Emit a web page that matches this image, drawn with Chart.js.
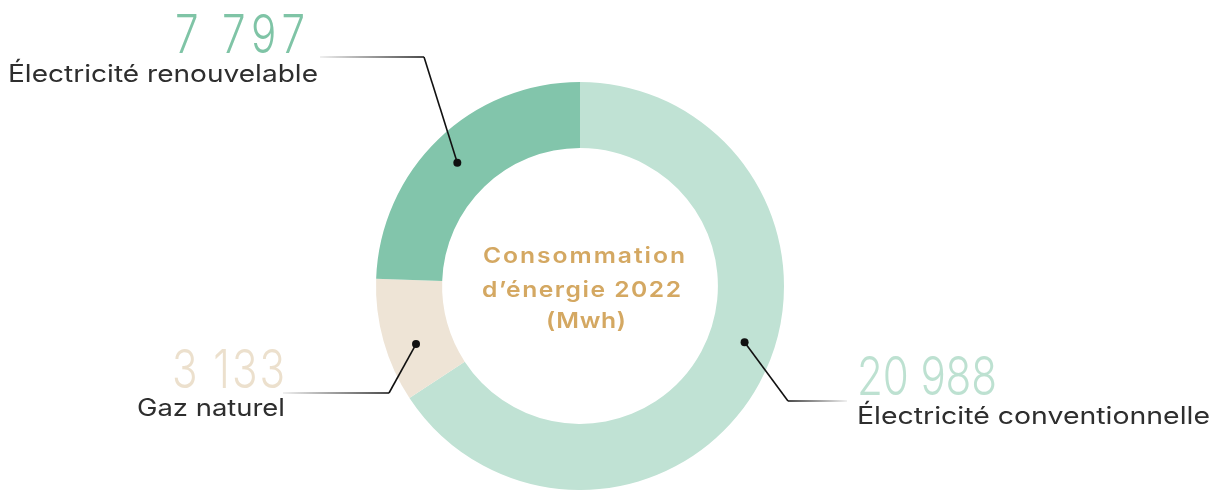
<!DOCTYPE html>
<html>
<head>
<meta charset="utf-8">
<script src="https://cdn.jsdelivr.net/npm/chart.js@4/dist/chart.umd.min.js"></script>
<style>
  html, body { margin: 0; padding: 0; background: #fff; }
  #wrap { width: 1214px; height: 490px; }
</style>
</head>
<body>
<div id="wrap"><canvas id="energyChart" width="1214" height="490"></canvas></div>
<script>
// Chart data
const categories = ['Électricité conventionnelle', 'Gaz naturel', 'Électricité renouvelable'];
const values = [20988, 3133, 7797];
const valueLabels = ['20 988', '3 133', '7 797'];
const centerLines = ['Consommation', 'd’énergie 2022', '(Mwh)'];

// Styling
const sliceColors = ['#c0e2d4', '#eee4d6', '#82c5ab'];
const numberColors = ['#bde1d1', '#ece0cd', '#7fc4a6'];

// Callout layout, relative to the doughnut centre
// frac: where along the slice the dot sits, elbow: bend of the leader line
const callouts = [
    { frac: 0.46, elbow: [208, 115], endX: 267,
      label: { x0: 277, x1: 630, base: 138 }, num: { x0: 277, x1: 417, base: 109 } },
    { frac: 0.39, elbow: [-191, 107], endX: -297,
      label: { x0: -443, x1: -295, base: 130 }, num: { x0: -408, x1: -295, base: 102 } },
    { frac: 0.49, elbow: [-156, -229], endX: -260,
      label: { x0: -572, x1: -262, base: -204 }, num: { x0: -405, x1: -275, base: -233 } }
];

const ctx = document.getElementById('energyChart').getContext('2d');

// Draw text between x0 and x1: squeeze by sx, then spread the rest with letter spacing
function drawFitted(c, text, x0, x1, base, font, color, sx) {
    c.save();
    c.font = font;
    c.letterSpacing = '0px';
    const w = c.measureText(text).width * sx;
    const n = [...text].length;
    const ls = n > 1 ? (x1 - x0 - w) / (n - 1) / sx : 0;
    c.letterSpacing = ls + 'px';
    c.fillStyle = color;
    c.textAlign = 'left';
    c.textBaseline = 'alphabetic';
    c.translate(x0, base);
    c.scale(sx, 1);
    c.fillText(text, 0, 0);
    c.restore();
}

// Draw text stretched to exactly fill x0..x1
function drawStretched(c, text, x0, x1, base, font, color) {
    c.save();
    c.font = font;
    c.letterSpacing = '0px';
    const w = c.measureText(text).width;
    c.fillStyle = color;
    c.textAlign = 'left';
    c.textBaseline = 'alphabetic';
    c.translate(x0, base);
    c.scale((x1 - x0) / w, 1);
    c.fillText(text, 0, 0);
    c.restore();
}

const calloutPlugin = {
    id: 'callouts',
    afterDatasetsDraw(chart) {
        const c = chart.ctx;
        const arcs = chart.getDatasetMeta(0).data;
        const cx = arcs[0].x;
        const cy = arcs[0].y;
        c.save();

        // centre title
        const centerFont = '600 22px Inter, "Noto Sans", sans-serif';
        const centerSpan = [[-97, 105, -23], [-98, 101, 11], [-34, 46, 42]];
        centerLines.forEach((line, i) => {
            const s = centerSpan[i];
            drawFitted(c, line, cx + s[0], cx + s[1], cy + s[2], centerFont, '#d4a862', 1.12);
        });

        arcs.forEach((arc, i) => {
            const co = callouts[i];
            const p = arc.getProps(['startAngle', 'endAngle', 'innerRadius', 'outerRadius']);
            const a = p.startAngle + co.frac * (p.endAngle - p.startAngle);
            const r = (p.innerRadius + p.outerRadius) / 2 + 3;
            const dx = cx + Math.cos(a) * r;
            const dy = cy + Math.sin(a) * r;
            const ex = cx + co.elbow[0];
            const ey = cy + co.elbow[1];
            const endX = cx + co.endX;

            // leader line
            c.lineWidth = 1.6;
            c.strokeStyle = '#111';
            c.beginPath();
            c.moveTo(dx, dy);
            c.lineTo(ex, ey);
            c.stroke();
            const grad = c.createLinearGradient(ex, ey, endX, ey);
            grad.addColorStop(0, '#111');
            grad.addColorStop(1, 'rgba(0,0,0,0.08)');
            c.strokeStyle = grad;
            c.beginPath();
            c.moveTo(ex, ey);
            c.lineTo(endX, ey);
            c.stroke();

            // dot
            c.fillStyle = '#111';
            c.beginPath();
            c.arc(dx, dy, 4, 0, Math.PI * 2);
            c.fill();

            // value and category
            drawFitted(c, valueLabels[i], cx + co.num.x0, cx + co.num.x1, cy + co.num.base,
                '300 54px Inter, "DejaVu Sans", sans-serif', numberColors[i], 0.78);
            drawStretched(c, categories[i], cx + co.label.x0, cx + co.label.x1, cy + co.label.base,
                '400 24px Inter, "Noto Sans", sans-serif', '#2e2e2e');
        });
        c.restore();
    }
};

new Chart(ctx, {
    type: 'doughnut',
    data: {
        labels: categories,
        datasets: [{
            data: values,
            backgroundColor: sliceColors,
            borderWidth: 0,
            hoverOffset: 0
        }]
    },
    options: {
        responsive: false,
        animation: false,
        cutout: '67.6%',
        layout: {
            padding: { left: 0, right: 54, top: 82, bottom: 0 }
        },
        plugins: {
            legend: { display: false },
            tooltip: { enabled: false }
        }
    },
    plugins: [calloutPlugin]
});
</script>
</body>
</html>
